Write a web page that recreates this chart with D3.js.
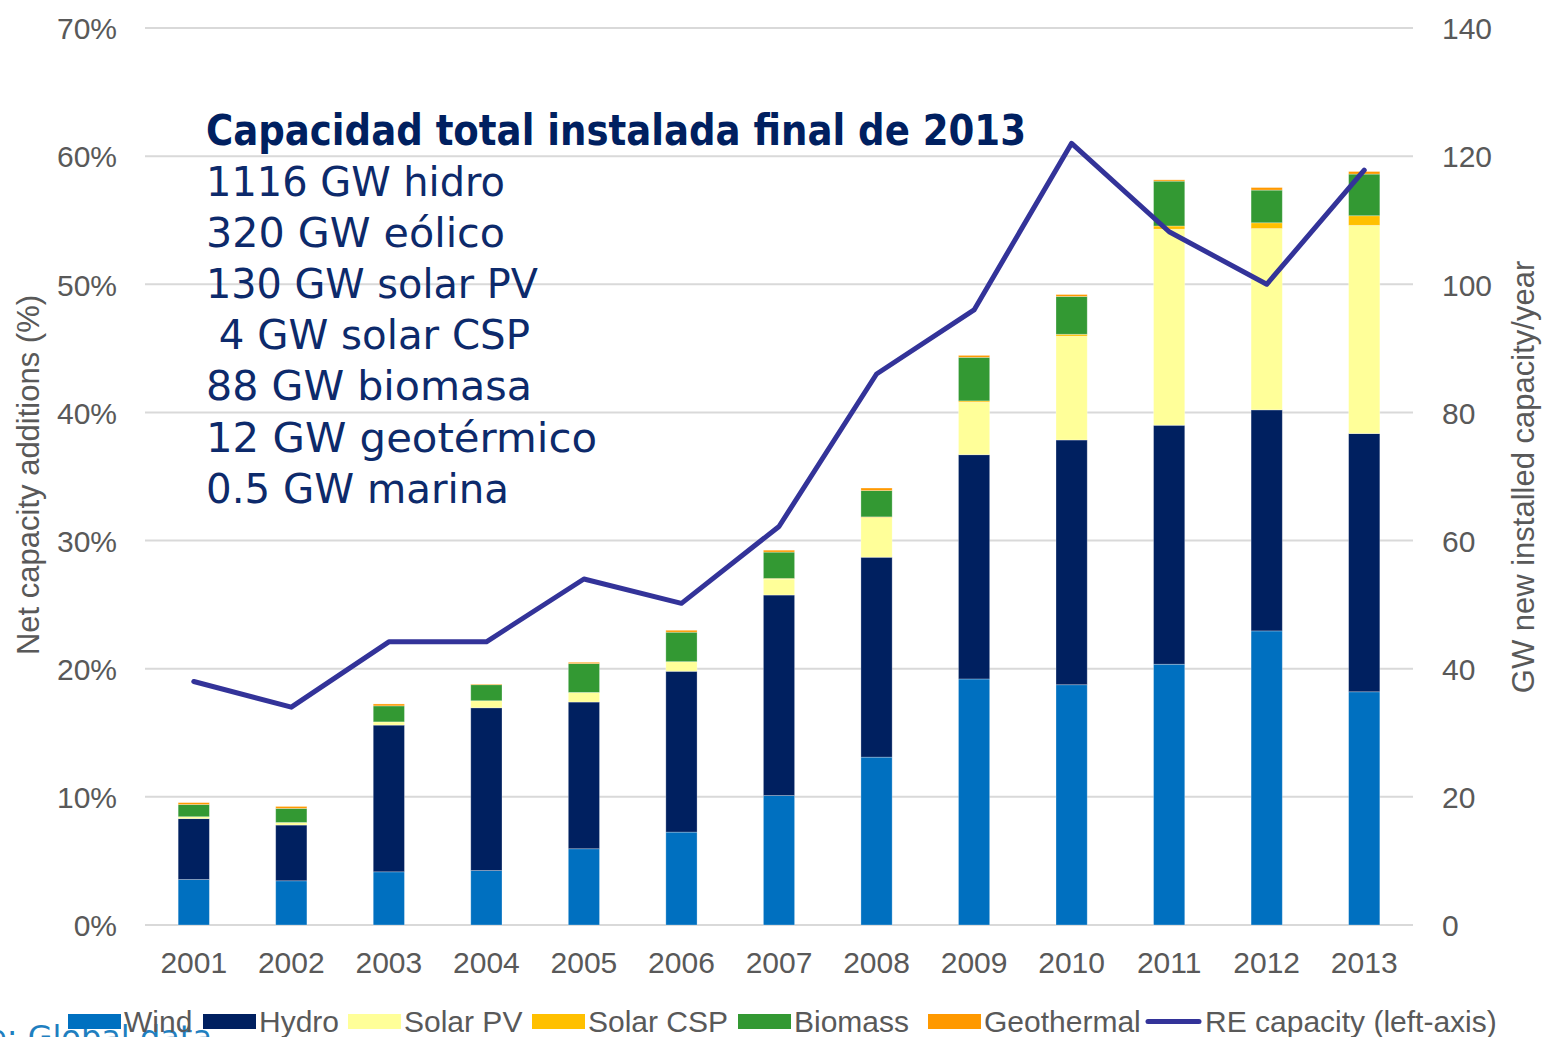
<!DOCTYPE html>
<html>
<head>
<meta charset="utf-8">
<script src="https://cdn.jsdelivr.net/npm/d3@7"></script>
<style>
body { margin: 0; background: #fff; }
svg { display: block; }
</style>
</head>
<body>
<script>
var w = 1543;
var h = 1037;

// data, GW per year (right axis) and % (left axis)
var years = [2001, 2002, 2003, 2004, 2005, 2006, 2007, 2008, 2009, 2010, 2011, 2012, 2013];
var wind = [7.1, 6.9, 8.3, 8.5, 11.9, 14.5, 20.2, 26.2, 38.4, 37.5, 40.7, 45.9, 36.4];
var hydro = [9.5, 8.7, 22.9, 25.4, 22.9, 25.1, 31.3, 31.2, 35.0, 38.2, 37.3, 34.5, 40.3];
var solarPV = [0.3, 0.4, 0.5, 1.1, 1.5, 1.5, 2.5, 6.2, 8.2, 16.2, 30.6, 28.3, 32.5];
var solarCSP = [0, 0, 0, 0, 0, 0, 0.1, 0.1, 0.2, 0.3, 0.5, 0.9, 1.5];
var biomass = [1.9, 2.2, 2.5, 2.5, 4.5, 4.6, 4.1, 4.1, 6.8, 5.9, 7.0, 5.1, 6.5];
var geothermal = [0.3, 0.3, 0.3, 0.1, 0.2, 0.3, 0.3, 0.4, 0.3, 0.3, 0.2, 0.4, 0.4];
var reCapacity = [19.0, 17.0, 22.1, 22.1, 27.0, 25.1, 31.1, 43.0, 48.0, 61.0, 54.1, 50.0, 58.9];

var leftTicks = [0, 10, 20, 30, 40, 50, 60, 70];
var rightTicks = [0, 20, 40, 60, 80, 100, 120, 140];

var seriesNames = ["Wind", "Hydro", "Solar PV", "Solar CSP", "Biomass", "Geothermal"];
var seriesColors = ["#0070C0", "#002060", "#FFFF99", "#FFC000", "#339933", "#FF9900"];
var lineName = "RE capacity (left-axis)";
var lineColor = "#333399";

var noteTitle = "Capacidad total instalada final de 2013";
var noteLines = ["1116 GW hidro", "320 GW eólico", "130 GW solar PV", " 4 GW solar CSP",
	"88 GW biomasa", "12 GW geotérmico", "0.5 GW marina"];

var plotLeft = 145, plotRight = 1413, plotTop = 28, plotBottom = 925;
var gray = "#595959";
var font = "'Liberation Sans', Arial, sans-serif";

var svg = d3.select("body")
	.append("svg")
	.attr("width", w)
	.attr("height", h);

var x = d3.scaleBand()
	.domain(years)
	.range([plotLeft, plotRight])
	.paddingInner(0.68)
	.paddingOuter(0.34);
var yGW = d3.scaleLinear().domain([0, 140]).range([plotBottom, plotTop]);
var yPct = d3.scaleLinear().domain([0, 70]).range([plotBottom, plotTop]);

// gridlines
svg.append("g")
	.selectAll("line")
	.data(leftTicks)
	.enter()
	.append("line")
	.attr("x1", plotLeft)
	.attr("x2", plotRight)
	.attr("y1", function(d){ return yPct(d); })
	.attr("y2", function(d){ return yPct(d); })
	.attr("stroke", "#D9D9D9")
	.attr("stroke-width", 2);

// left axis
var leftAxis = svg.append("g")
	.attr("transform", "translate(" + (plotLeft - 28) + ",0)")
	.call(d3.axisLeft(yPct).tickValues(leftTicks).tickSize(0).tickPadding(0)
		.tickFormat(function(d){ return d + "%"; }));
// right axis
var rightAxis = svg.append("g")
	.attr("transform", "translate(" + (plotRight + 29) + ",0)")
	.call(d3.axisRight(yGW).tickValues(rightTicks).tickSize(0).tickPadding(0));
// bottom axis
var bottomAxis = svg.append("g")
	.attr("transform", "translate(0," + plotBottom + ")")
	.call(d3.axisBottom(x).tickSize(0).tickPadding(27));

[leftAxis, rightAxis, bottomAxis].forEach(function(a){
	a.select(".domain").remove();
	a.selectAll("text")
		.attr("fill", gray)
		.style("font-family", font)
		.style("font-size", "30px");
});
leftAxis.selectAll("text").attr("dy", "0.36em");
rightAxis.selectAll("text").attr("dy", "0.36em");

// axis titles
svg.append("text")
	.attr("transform", "translate(39," + 475 + ") rotate(-90)")
	.attr("text-anchor", "middle")
	.attr("fill", gray)
	.style("font-family", font)
	.style("font-size", "31px")
	.text("Net capacity additions (%)");
svg.append("text")
	.attr("transform", "translate(1534," + 477 + ") rotate(-90)")
	.attr("text-anchor", "middle")
	.attr("fill", gray)
	.style("font-family", font)
	.style("font-size", "31px")
	.text("GW new installed capacity/year");

// stacked bars
var table = years.map(function(y, i){
	return {
		year: y,
		"Wind": wind[i],
		"Hydro": hydro[i],
		"Solar PV": solarPV[i],
		"Solar CSP": solarCSP[i],
		"Biomass": biomass[i],
		"Geothermal": geothermal[i]
	};
});
var stacked = d3.stack().keys(seriesNames)(table);

svg.append("g")
	.selectAll("g")
	.data(stacked)
	.enter()
	.append("g")
	.attr("fill", function(d, i){ return seriesColors[i]; })
	.selectAll("rect")
	.data(function(d){ return d; })
	.enter()
	.append("rect")
	.attr("x", function(d){ return x(d.data.year); })
	.attr("y", function(d){ return yGW(d[1]); })
	.attr("width", x.bandwidth())
	.attr("height", function(d){ return yGW(d[0]) - yGW(d[1]); })
	.attr("stroke", "#ffffff")
	.attr("stroke-opacity", 0.35)
	.attr("stroke-width", 0.8);

// RE capacity line
var line = d3.line()
	.x(function(d, i){ return x(years[i]) + x.bandwidth() / 2; })
	.y(function(d){ return yPct(d); });
svg.append("path")
	.datum(reCapacity)
	.attr("d", line)
	.attr("fill", "none")
	.attr("stroke", lineColor)
	.attr("stroke-width", 5)
	.attr("stroke-linejoin", "round")
	.attr("stroke-linecap", "round");

// annotation block
var noteFont = "'DejaVu Sans', Verdana, sans-serif";
svg.append("text")
	.attr("x", 206)
	.attr("y", 145)
	.attr("fill", "#002060")
	.attr("textLength", 820)
	.attr("lengthAdjust", "spacingAndGlyphs")
	.style("font-family", noteFont)
	.style("font-weight", "bold")
	.style("font-size", "42px")
	.text(noteTitle);

var noteWidths = [299, 299, 332, 324, 326, 391, 303];
svg.append("g")
	.selectAll("text")
	.data(noteLines)
	.enter()
	.append("text")
	.attr("x", 206)
	.attr("y", function(d, i){ return 196 + i * 51.1; })
	.attr("fill", "#0d2a6b")
	.attr("textLength", function(d, i){ return noteWidths[i]; })
	.attr("lengthAdjust", "spacingAndGlyphs")
	.attr("xml:space", "preserve")
	.style("white-space", "pre")
	.style("font-family", noteFont)
	.style("font-size", "41px")
	.text(function(d){ return d; });

// source text, mostly hidden under the legend
svg.append("text")
	.attr("x", 212)
	.attr("y", 1048)
	.attr("text-anchor", "end")
	.attr("fill", "#1F7FC0")
	.style("font-family", noteFont)
	.style("font-size", "32px")
	.text("Source: Global data");

// legend
var legendX = [68, 203, 348, 532, 738, 928];
var legend = svg.append("g");
seriesNames.forEach(function(name, i){
	legend.append("rect")
		.attr("x", legendX[i])
		.attr("y", 1014)
		.attr("width", 53)
		.attr("height", 15)
		.attr("fill", seriesColors[i]);
	legend.append("text")
		.attr("x", legendX[i] + 56)
		.attr("y", 1032)
		.attr("fill", gray)
		.style("font-family", font)
		.style("font-size", "30px")
		.text(name);
});
legend.append("line")
	.attr("x1", 1148)
	.attr("x2", 1199)
	.attr("y1", 1021.5)
	.attr("y2", 1021.5)
	.attr("stroke", lineColor)
	.attr("stroke-width", 5)
	.attr("stroke-linecap", "round");
legend.append("text")
	.attr("x", 1205)
	.attr("y", 1032)
	.attr("fill", gray)
	.style("font-family", font)
	.style("font-size", "30px")
	.text(lineName);
</script>
</body>
</html>
